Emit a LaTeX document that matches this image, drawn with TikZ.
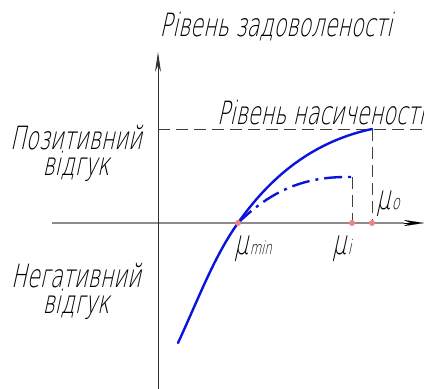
\documentclass[tikz,border=0pt]{standalone}
\usepackage{fontspec}
\setmainfont{DejaVu Sans ExtraLight}[FakeStretch=0.65,FakeSlant=0.22]
\usetikzlibrary{arrows.meta}
\definecolor{curveblue}{RGB}{10,20,220}
\definecolor{dotpink}{RGB}{240,130,130}
\definecolor{axgray}{RGB}{140,140,140}
\tikzset{
  lbl/.style={inner sep=0pt, font=\fontsize{32}{26}\selectfont},
  mulbl/.style={inner sep=0pt, anchor=base west},
  guide/.style={draw=black!75, line width=0.8pt, dash pattern=on 12pt off 6pt},
  curve/.style={draw=curveblue, line width=2.4pt},
  dashdotcurve/.style={draw=curveblue, line width=2.4pt, dash pattern=on 18pt off 6pt on 3pt off 6pt},
  mark dot/.style={circle, fill=dotpink, inner sep=0pt, minimum size=6pt},
  axisarrow/.style={-{Stealth[length=20pt,width=6pt]}}
}
\begin{document}
\begin{tikzpicture}[x=1pt,y=-1pt]
\useasboundingbox (0,0) rectangle (424,389);
% axes
\coordinate (ybot) at (158,389);
\coordinate (ytop) at (158,52);
\coordinate (xl) at (52,223);
\coordinate (xr) at (424,223);
\draw[draw=axgray, line width=1.6pt] (xl) -- (404,223);
\draw[line width=0.1pt, draw=black, axisarrow] (404,223) -- (xr);
\draw[draw=black!80, line width=0.9pt, axisarrow] (ybot) -- (ytop);
% points
\coordinate (pmin) at (238,223);
\coordinate (pi) at (352,223);
\coordinate (po) at (372,223);
\coordinate (top) at (372,129);
\coordinate (itop) at (352,177);
\coordinate (start) at (178,343);
\coordinate (satl) at (158,129);
\coordinate (satr) at (424,129);
% guides
\path[guide] (satl) -- (satr);
\path[guide] (top) -- (po);
\path[guide] (itop) -- (pi);
% curves
\path[curve, line cap=round] (start) .. controls (200,295) and (215,255) .. (pmin) .. controls (275,170) and (320,140) .. (top);
\path[dashdotcurve] (pmin) .. controls (272,190) and (305,176) .. (itop);
% dots
\node[mark dot] (dmin) at (pmin) {};
\node[mark dot] (di) at (pi) {};
\node[mark dot] (do) at (po) {};
% labels
\node[lbl] (title) at (276,27) {Рівень задоволеності};
\node[lbl, anchor=west] (sat) at (217,113) {Рівень насиченості};
\node[lbl, align=center] (pos) at (76,153) {Позитивний\\відгук};
\node[lbl, align=center] (neg) at (76,291) {Негативний\\відгук};
\node[mulbl] (mmin) at (234,254) {\fontsize{34}{36}\selectfont μ\kern1.5pt\fontsize{18}{20}\selectfont min};
\node[mulbl] (mi) at (332,254) {\fontsize{34}{36}\selectfont μ\kern1.5pt\fontsize{20}{22}\selectfont i};
\node[mulbl] (mo) at (376,209) {\fontsize{34}{36}\selectfont μ\kern1.5pt\fontsize{20}{22}\selectfont o};
\end{tikzpicture}
\end{document}
